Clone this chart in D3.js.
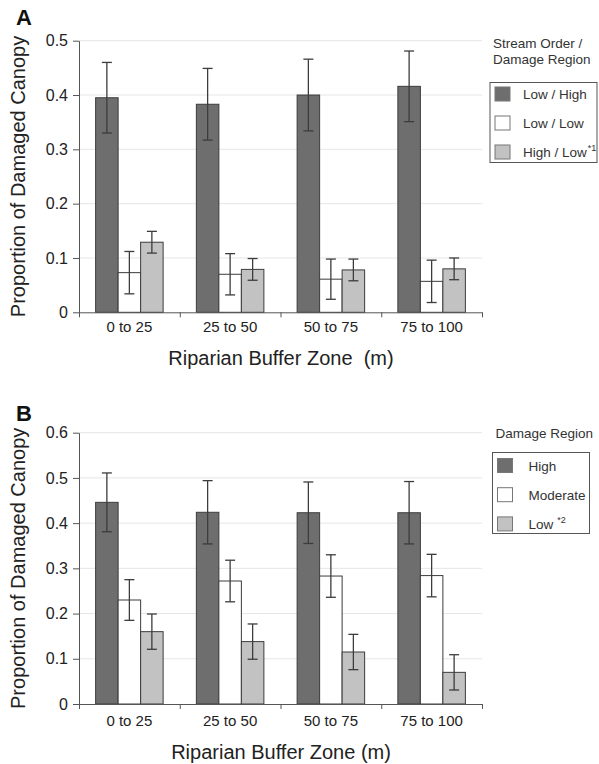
<!DOCTYPE html>
<html>
<head>
<meta charset="utf-8">
<script src="https://cdn.jsdelivr.net/npm/d3@7"></script>
<style>
  body { margin: 0; background: #fff; }
  svg { display: block; font-family: "Liberation Sans", Arial, sans-serif; }
</style>
</head>
<body>
<div id="chart"></div>
<script>
// categories along the x axis
var zones = ["0 to 25", "25 to 50", "50 to 75", "75 to 100"];

// panel A - stream order / damage region
var seriesA = ["Low / High", "Low / Low", "High / Low"];
var supA = ["", "", "*1"];
var lowHighA = [0.395, 0.383, 0.400, 0.416];
var lowHighErrA = [0.065, 0.066, 0.066, 0.065];
var lowLowA = [0.073, 0.070, 0.061, 0.057];
var lowLowErrA = [0.039, 0.038, 0.037, 0.039];
var highLowA = [0.129, 0.079, 0.078, 0.080];
var highLowErrA = [0.020, 0.020, 0.020, 0.020];
var ticksA = [0, 0.1, 0.2, 0.3, 0.4, 0.5];

// panel B - damage region
var seriesB = ["High", "Moderate", "Low"];
var supB = ["", "", "*2"];
var highB = [0.446, 0.424, 0.423, 0.423];
var highErrB = [0.065, 0.070, 0.068, 0.069];
var moderateB = [0.230, 0.272, 0.283, 0.284];
var moderateErrB = [0.045, 0.046, 0.047, 0.047];
var lowB = [0.160, 0.138, 0.115, 0.070];
var lowErrB = [0.039, 0.039, 0.039, 0.039];
var ticksB = [0, 0.1, 0.2, 0.3, 0.4, 0.5, 0.6];

var fills = ["#6e6e6e", "#ffffff", "#c2c2c2"];
var ink = "#3c3c3c";

var svg = d3.select('#chart').append('svg').attr('width', 599).attr('height', 764);

function drawPanel(p) {
	var g = svg.append('g');

	var y = d3.scaleLinear().domain([0, d3.max(p.ticks)]).range([p.bottom, p.top]);
	var x0 = d3.scaleBand().domain(zones).range([79, 482]).paddingInner(0.33).paddingOuter(0.165);
	var x1 = d3.scaleBand().domain(p.series).range([0, x0.bandwidth()]);
	var xb = d3.scaleLinear().domain([0, zones.length]).range([79, 482]);

	// gridlines
	g.selectAll('line.grid').data(p.ticks.slice(1)).enter().append('line')
		.attr('x1', 79).attr('x2', 482)
		.attr('y1', function(d) { return y(d); })
		.attr('y2', function(d) { return y(d); })
		.attr('stroke', '#e6e6e6');

	// rows of bars
	var rows = [];
	p.values.forEach(function(vals, si) {
		vals.forEach(function(v, ci) {
			rows.push({ s: p.series[si], si: si, zone: zones[ci], v: v, e: p.errors[si][ci] });
		});
	});

	g.selectAll('rect.bar').data(rows).enter().append('rect')
		.attr('x', function(d) { return x0(d.zone) + x1(d.s); })
		.attr('y', function(d) { return y(d.v); })
		.attr('width', x1.bandwidth())
		.attr('height', function(d) { return y(0) - y(d.v); })
		.attr('fill', function(d) { return fills[d.si]; })
		.attr('stroke', ink).attr('stroke-width', 1);

	// error bars
	var eb = g.selectAll('g.err').data(rows).enter().append('g')
		.attr('stroke', ink).attr('stroke-width', 1.3)
		.attr('transform', function(d) {
			return 'translate(' + (x0(d.zone) + x1(d.s) + x1.bandwidth() / 2) + ',0)';
		});
	eb.append('line').attr('x1', 0).attr('x2', 0)
		.attr('y1', function(d) { return y(d.v + d.e); })
		.attr('y2', function(d) { return y(d.v - d.e); });
	eb.append('line').attr('x1', -5).attr('x2', 5)
		.attr('y1', function(d) { return y(d.v + d.e); })
		.attr('y2', function(d) { return y(d.v + d.e); });
	eb.append('line').attr('x1', -5).attr('x2', 5)
		.attr('y1', function(d) { return y(d.v - d.e); })
		.attr('y2', function(d) { return y(d.v - d.e); });

	// y axis
	var ya = g.append('g').attr('transform', 'translate(79,0)')
		.call(d3.axisLeft(y).tickValues(p.ticks).tickSize(6).tickSizeOuter(0).tickPadding(5)
			.tickFormat(function(d) { return d === 0 ? '0' : d3.format('.1f')(d); }));
	ya.selectAll('path,line').attr('stroke', '#555');
	ya.selectAll('text').attr('font-size', 16).attr('fill', '#222').attr('font-family', null);

	// x axis: ticks at the borders between zones
	var xa = g.append('g').attr('transform', 'translate(0,' + p.bottom + ')')
		.call(d3.axisBottom(xb).tickValues(d3.range(zones.length + 1)).tickSize(5).tickSizeOuter(0).tickFormat(''));
	xa.selectAll('path,line').attr('stroke', '#555');

	g.selectAll('text.zone').data(zones).enter().append('text')
		.attr('x', function(d) { return x0(d) + x0.bandwidth() / 2; })
		.attr('y', p.bottom + p.labelGap)
		.attr('text-anchor', 'middle').attr('font-size', 15).attr('fill', '#222')
		.text(function(d) { return d; });

	g.append('text').attr('x', 281).attr('y', p.bottom + p.titleGap)
		.attr('text-anchor', 'middle').attr('font-size', 20).attr('fill', '#222')
		.attr('xml:space', 'preserve')
		.text(p.xTitle);

	g.append('text')
		.attr('transform', 'translate(25,' + ((p.top + p.bottom) / 2) + ') rotate(-90)')
		.attr('text-anchor', 'middle').attr('font-size', 20).attr('fill', '#222')
		.text('Proportion of Damaged Canopy');

	g.append('text').attr('x', 16).attr('y', p.letterY)
		.attr('font-size', 22).attr('font-weight', 'bold').attr('fill', '#111')
		.text(p.letter);

	// legend
	p.legendTitle.forEach(function(t, i) {
		g.append('text').attr('x', p.legend.x + 3).attr('y', p.legend.titleY + i * 16)
			.attr('font-size', 13.5).attr('fill', '#333').text(t);
	});
	g.append('rect').attr('x', p.legend.x).attr('y', p.legend.y)
		.attr('width', p.legend.w).attr('height', p.legend.h)
		.attr('fill', 'none').attr('stroke', '#555');
	var items = g.selectAll('g.leg').data(p.series).enter().append('g')
		.attr('transform', function(d, i) {
			return 'translate(' + (p.legend.x + 5) + ',' + (p.legend.y + p.legend.first + i * p.legend.step) + ')';
		});
	items.append('rect').attr('width', 15).attr('height', 14)
		.attr('fill', function(d, i) { return fills[i]; })
		.attr('stroke', '#777');
	var lt = items.append('text').attr('x', p.legend.textX).attr('y', 12)
		.attr('font-size', 13.5).attr('fill', '#333')
		.text(function(d) { return d; });
	lt.append('tspan').attr('dx', p.supGap).attr('dy', -6).attr('font-size', 9)
		.text(function(d, i) { return p.sups[i]; });
}

drawPanel({
	letter: 'A', letterY: 25,
	top: 40.7, bottom: 312.3, ticks: ticksA,
	series: seriesA, sups: supA,
	values: [lowHighA, lowLowA, highLowA],
	errors: [lowHighErrA, lowLowErrA, highLowErrA],
	labelGap: 19.5, titleGap: 53,
	xTitle: 'Riparian Buffer Zone  (m)',
	legendTitle: ['Stream Order /', 'Damage Region'],
	legend: { x: 490, y: 82.5, w: 107, h: 80, titleY: 48, first: 4.5, step: 29, textX: 28 },
	supGap: 1
});

drawPanel({
	letter: 'B', letterY: 421,
	top: 432.7, bottom: 704, ticks: ticksB,
	series: seriesB, sups: supB,
	values: [highB, moderateB, lowB],
	errors: [highErrB, moderateErrB, lowErrB],
	labelGap: 22, titleGap: 54.5,
	xTitle: 'Riparian Buffer Zone (m)',
	legendTitle: ['Damage Region'],
	legend: { x: 492.5, y: 452.5, w: 97, h: 81, titleY: 438, first: 6, step: 29.2, textX: 31 },
	supGap: 4
});
</script>
</body>
</html>
